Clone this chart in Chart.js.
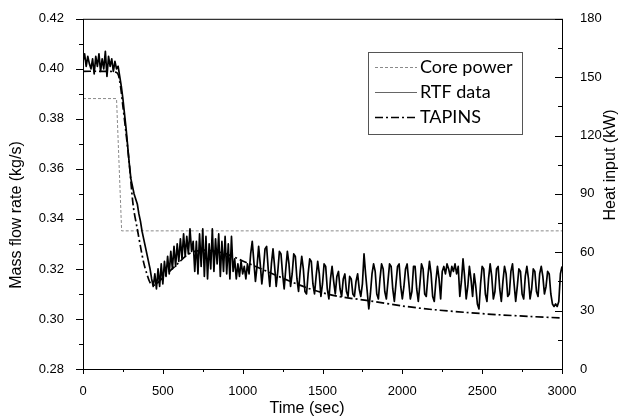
<!DOCTYPE html>
<html>
<head>
<meta charset="utf-8">
<script src="https://cdn.jsdelivr.net/npm/chart.js@4.4.1/dist/chart.umd.min.js"></script>
<style>
  html, body { margin: 0; padding: 0; background: #fff; }
  #wrap { width: 623px; height: 419px; }
</style>
</head>
<body>
<div id="wrap"><canvas id="chart" width="623" height="419"></canvas></div>
<script>
// ── Ejes ──────────────────────────────────────────────────────
const xTicks     = [0, 500, 1000, 1500, 2000, 2500, 3000];
const flowTicks  = [0.28, 0.30, 0.32, 0.34, 0.36, 0.38, 0.40, 0.42];
const powerTicks = [0, 30, 60, 90, 120, 150, 180];

// ── Core power (kW, eje derecho) ──────────────────────────────
const coreTime  = [0, 210, 242, 3000];
const corePower = [139, 139, 71, 71];

// ── TAPINS (kg/s) ─────────────────────────────────────────────
const tapinsTime = [0, 100, 210, 230, 250, 270, 290, 315, 340, 360, 380, 400, 420, 440, 460,
    500, 550, 600, 650, 700, 750, 800, 900, 1000, 1100, 1200, 1300, 1400, 1500, 1600,
    1800, 2000, 2200, 2400, 2600, 2800, 3000];
const tapinsFlow = [0.399, 0.399, 0.3985, 0.395, 0.385, 0.374, 0.362, 0.345, 0.336, 0.329, 0.3225, 0.318, 0.3145, 0.3135, 0.314,
    0.3165, 0.3195, 0.3225, 0.3255, 0.327, 0.3275, 0.3273, 0.326, 0.3232, 0.3205, 0.3177, 0.315, 0.3125, 0.3105, 0.309,
    0.3072, 0.3052, 0.3037, 0.3026, 0.3017, 0.301, 0.3004];

// ── RTF data (kg/s), una muestra cada 10 s ────────────────────
const RTF_DT = 10;
const rtfFlow = [
    0.403, 0.406, 0.401, 0.405, 0.402, 0.400, 0.404, 0.398, 0.405, 0.401,   // 0
    0.406, 0.399, 0.404, 0.400, 0.407, 0.397, 0.405, 0.401, 0.404, 0.399,   // 100
    0.403, 0.400, 0.401, 0.397, 0.393, 0.388, 0.382, 0.376, 0.369, 0.362,   // 200
    0.356, 0.353, 0.350, 0.348, 0.346, 0.342, 0.339, 0.335, 0.332, 0.329,   // 300
    0.326, 0.323, 0.320, 0.316, 0.313, 0.318, 0.312, 0.320, 0.313, 0.322,   // 400
    0.314, 0.323, 0.317, 0.325, 0.318, 0.327, 0.320, 0.329, 0.321, 0.330,   // 500
    0.323, 0.332, 0.324, 0.334, 0.325, 0.333, 0.326, 0.336, 0.327, 0.331,   // 600
    0.319, 0.331, 0.318, 0.334, 0.321, 0.336, 0.317, 0.333, 0.316, 0.330,   // 700
    0.320, 0.336, 0.319, 0.332, 0.322, 0.334, 0.317, 0.331, 0.319, 0.333,   // 800
    0.318, 0.330, 0.316, 0.333, 0.319, 0.324, 0.316, 0.322, 0.317, 0.323,   // 900
    0.318, 0.321, 0.316, 0.322, 0.318, 0.326, 0.331, 0.323, 0.315, 0.321,   // 1000
    0.329, 0.322, 0.314, 0.320, 0.328, 0.329, 0.320, 0.313, 0.322, 0.328,   // 1100
    0.321, 0.313, 0.319, 0.327, 0.326, 0.318, 0.312, 0.320, 0.327, 0.322,   // 1200
    0.313, 0.318, 0.326, 0.325, 0.316, 0.311, 0.319, 0.325, 0.320, 0.311,   // 1300
    0.310, 0.318, 0.324, 0.323, 0.314, 0.310, 0.317, 0.323, 0.318, 0.309,   // 1400
    0.314, 0.322, 0.321, 0.312, 0.308, 0.316, 0.321, 0.315, 0.310, 0.317,   // 1500
    0.319, 0.312, 0.309, 0.316, 0.318, 0.311, 0.309, 0.317, 0.316, 0.310,   // 1600
    0.309, 0.315, 0.318, 0.312, 0.309, 0.314, 0.326, 0.318, 0.311, 0.304,   // 1700
    0.310, 0.318, 0.322, 0.319, 0.310, 0.308, 0.316, 0.322, 0.320, 0.311,   // 1800
    0.308, 0.315, 0.322, 0.321, 0.312, 0.307, 0.314, 0.321, 0.322, 0.313,   // 1900
    0.308, 0.313, 0.320, 0.322, 0.315, 0.308, 0.311, 0.321, 0.321, 0.312,   // 2000
    0.307, 0.314, 0.322, 0.320, 0.310, 0.309, 0.317, 0.323, 0.318, 0.309,   // 2100
    0.307, 0.315, 0.321, 0.316, 0.308, 0.319, 0.321, 0.318, 0.322, 0.320,   // 2200
    0.317, 0.321, 0.319, 0.322, 0.318, 0.321, 0.309, 0.315, 0.324, 0.317,   // 2300
    0.308, 0.313, 0.321, 0.316, 0.309, 0.318, 0.313, 0.306, 0.304, 0.314,   // 2400
    0.321, 0.320, 0.310, 0.307, 0.316, 0.322, 0.317, 0.308, 0.311, 0.320,   // 2500
    0.321, 0.312, 0.307, 0.315, 0.321, 0.318, 0.309, 0.310, 0.319, 0.322,   // 2600
    0.314, 0.307, 0.313, 0.320, 0.319, 0.310, 0.308, 0.317, 0.321, 0.316,   // 2700
    0.308, 0.312, 0.320, 0.319, 0.311, 0.309, 0.318, 0.321, 0.317, 0.310,   // 2800
    0.313, 0.319, 0.318, 0.310, 0.306, 0.305, 0.306, 0.305, 0.307, 0.318,   // 2900
    0.321                                                                   // 3000
];

// ── Estilos ───────────────────────────────────────────────────
const FONT_AXIS   = 'Liberation Sans, Arial, sans-serif';
const FONT_LEGEND = 'Lato, "Open Sans", sans-serif';
const DASH_CORE   = [3, 2];
const DASH_TAPINS = [8, 3, 2, 3];

function toPoints(xs, ys) {
    return xs.map((x, i) => ({ x: x, y: ys[i] }));
}

function line(ctx, x1, y1, x2, y2) {
    ctx.beginPath();
    ctx.moveTo(x1, y1);
    ctx.lineTo(x2, y2);
    ctx.stroke();
}

// ── Marco, ticks menores/mayores, títulos y leyenda ───────────
const framePlugin = {
    id: 'framePlugin',
    afterDraw(chart) {
        const { ctx, chartArea: a, scales } = chart;
        ctx.save();
        ctx.strokeStyle = '#000';
        ctx.lineWidth = 1;
        ctx.setLineDash([]);
        ctx.strokeRect(a.left + 0.5, a.top + 0.5, a.right - a.left, a.bottom - a.top);

        // eje X: ticks hacia fuera
        xTicks.forEach((v, i) => {
            const x = Math.round(scales.x.getPixelForValue(v)) + 0.5;
            line(ctx, x, a.bottom, x, a.bottom + 5);
            if (i < xTicks.length - 1) {
                const xm = Math.round(scales.x.getPixelForValue((v + xTicks[i + 1]) / 2)) + 0.5;
                line(ctx, xm, a.bottom, xm, a.bottom + 3);
            }
        });
        // eje izquierdo: ticks hacia fuera
        flowTicks.forEach((v, i) => {
            const y = Math.round(scales.y.getPixelForValue(v)) + 0.5;
            line(ctx, a.left - 7, y, a.left, y);
            if (i < flowTicks.length - 1) {
                const ym = Math.round(scales.y.getPixelForValue((v + flowTicks[i + 1]) / 2)) + 0.5;
                line(ctx, a.left - 4, ym, a.left, ym);
            }
        });
        // eje derecho: ticks hacia dentro
        powerTicks.forEach((v, i) => {
            const y = Math.round(scales.y1.getPixelForValue(v)) + 0.5;
            line(ctx, a.right - 7, y, a.right, y);
            if (i < powerTicks.length - 1) {
                const ym = Math.round(scales.y1.getPixelForValue((v + powerTicks[i + 1]) / 2)) + 0.5;
                line(ctx, a.right - 4, ym, a.right, ym);
            }
        });

        // títulos de ejes
        ctx.fillStyle = '#000';
        ctx.font = '16px ' + FONT_AXIS;
        ctx.textAlign = 'center';
        ctx.textBaseline = 'middle';
        ctx.fillText('Time (sec)', 307, 409);
        ctx.save();
        ctx.translate(17, 215);
        ctx.rotate(-Math.PI / 2);
        ctx.fillText('Mass flow rate (kg/s)', 0, 0);
        ctx.restore();
        ctx.save();
        ctx.translate(611, 165);
        ctx.rotate(-Math.PI / 2);
        ctx.fillText('Heat input (kW)', 0, 0);
        ctx.restore();

        // leyenda
        const lx = 368.5, ly = 52.5, lw = 154, lh = 82;
        ctx.fillStyle = '#fff';
        ctx.fillRect(lx, ly, lw, lh);
        ctx.strokeStyle = '#555';
        ctx.strokeRect(lx, ly, lw, lh);
        const items = [
            { label: 'Core power', color: '#8a8a8a', width: 1,   dash: DASH_CORE,   y: 67 },
            { label: 'RTF data',   color: '#666',    width: 1,   dash: [],          y: 92 },
            { label: 'TAPINS',     color: '#000',    width: 1.6, dash: DASH_TAPINS, y: 117 }
        ];
        ctx.textAlign = 'left';
        ctx.font = '18px ' + FONT_LEGEND;
        items.forEach(it => {
            ctx.strokeStyle = it.color;
            ctx.lineWidth = it.width;
            ctx.setLineDash(it.dash);
            line(ctx, 375, it.y + 0.5, 417, it.y + 0.5);
            ctx.setLineDash([]);
            ctx.fillStyle = '#000';
            ctx.fillText(it.label, 420, it.y);
        });
        ctx.restore();
    }
};

const ctx = document.getElementById('chart').getContext('2d');

new Chart(ctx, {
    type: 'line',
    data: {
        datasets: [
            {
                label: 'TAPINS',
                data: toPoints(tapinsTime, tapinsFlow),
                yAxisID: 'y',
                borderColor: '#000',
                borderWidth: 1.7,
                borderDash: DASH_TAPINS,
                tension: 0.3,
                pointRadius: 0,
                order: 0
            },
            {
                label: 'RTF data',
                data: rtfFlow.map((v, i) => ({ x: i * RTF_DT, y: v })),
                yAxisID: 'y',
                borderColor: '#000',
                borderWidth: 1.7,
                borderJoinStyle: 'round',
                tension: 0,
                pointRadius: 0,
                order: 1
            },
            {
                label: 'Core power',
                data: toPoints(coreTime, corePower),
                yAxisID: 'y1',
                borderColor: '#8a8a8a',
                borderWidth: 1,
                borderDash: DASH_CORE,
                tension: 0,
                pointRadius: 0,
                order: 2
            }
        ]
    },
    options: {
        responsive: false,
        animation: false,
        layout: { padding: { top: 16, left: 0, right: 0, bottom: 0 } },
        plugins: {
            legend: { display: false },
            tooltip: { enabled: false }
        },
        scales: {
            x: {
                type: 'linear',
                min: 0,
                max: 3000,
                afterBuildTicks: s => { s.ticks = xTicks.map(v => ({ value: v })); },
                afterFit: s => { s.height = 50; },
                grid: { display: false },
                border: { display: false },
                ticks: {
                    padding: 7,
                    color: '#000',
                    font: { family: FONT_AXIS, size: 13 },
                    maxRotation: 0,
                    callback: v => String(v)
                }
            },
            y: {
                position: 'left',
                min: 0.28,
                max: 0.42,
                afterBuildTicks: s => { s.ticks = flowTicks.map(v => ({ value: v })); },
                afterFit: s => { s.width = 83; },
                grid: { display: false },
                border: { display: false },
                ticks: {
                    padding: 11,
                    color: '#000',
                    font: { family: FONT_AXIS, size: 13 },
                    callback: v => v.toFixed(2)
                }
            },
            y1: {
                position: 'right',
                min: 0,
                max: 180,
                afterBuildTicks: s => { s.ticks = powerTicks.map(v => ({ value: v })); },
                afterFit: s => { s.width = 61; },
                grid: { display: false },
                border: { display: false },
                ticks: {
                    padding: 10,
                    color: '#000',
                    font: { family: FONT_AXIS, size: 13 }
                }
            }
        }
    },
    plugins: [framePlugin]
});
</script>
</body>
</html>
